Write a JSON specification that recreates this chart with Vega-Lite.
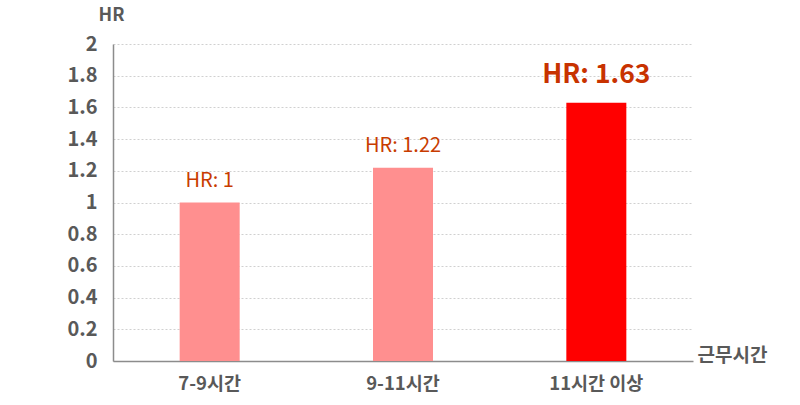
{
  "$schema": "https://vega.github.io/schema/vega-lite/v6.json",
  "width": 580,
  "height": 317,
  "autosize": {"type": "none"},
  "padding": {"left": 113, "top": 44, "right": 107, "bottom": 44},
  "background": "white",
  "data": {"values": [
    {"group": "7-9시간", "hr": 1, "label": "HR: 1"},
    {"group": "9-11시간", "hr": 1.22, "label": "HR: 1.22"},
    {"group": "11시간 이상", "hr": 1.63, "label": "HR: 1.63"}
  ]},
  "config": {
    "view": {"stroke": null},
    "font": "Noto Sans CJK KR"
  },
  "encoding": {
    "x": {
      "field": "group", "type": "nominal", "sort": null,
      "scale": {"paddingInner": 0, "paddingOuter": 0},
      "axis": {
        "title": "근무시간", "titleAngle": 0, "titleAlign": "left", "titleBaseline": "middle",
        "titleX": 584, "titleY": -6, "titleFontSize": 19, "titleFontWeight": "bold", "titleColor": "#595959",
        "labelAngle": 0, "labelFontSize": 18.5, "labelFontWeight": "bold", "labelColor": "#595959",
        "labelPadding": 13, "ticks": false, "domainColor": "#8c8c8c", "domainWidth": 1.5, "grid": false
      }
    },
    "y": {
      "field": "hr", "type": "quantitative",
      "scale": {"domain": [0, 2], "nice": false},
      "axis": {
        "values": [0, 0.2, 0.4, 0.6, 0.8, 1, 1.2, 1.4, 1.6, 1.8, 2],
        "format": "~g",
        "title": "HR", "titleAngle": 0, "titleAlign": "center", "titleBaseline": "middle",
        "titleX": -2, "titleY": -29, "titleFontSize": 18, "titleFontWeight": "bold", "titleColor": "#595959",
        "labelFontSize": 20, "labelFontWeight": "bold", "labelColor": "#595959", "labelPadding": 16,
        "ticks": false, "domainColor": "#8c8c8c", "domainWidth": 1.5,
        "grid": true, "gridColor": "#d0d0d0", "gridDash": [2, 2], "gridWidth": 1
      }
    }
  },
  "layer": [
    {
      "mark": {"type": "bar", "width": 60},
      "encoding": {
        "color": {
          "field": "group", "type": "nominal", "legend": null,
          "scale": {"domain": ["7-9시간", "9-11시간", "11시간 이상"], "range": ["#FF8F8F", "#FF8F8F", "#FF0000"]}
        }
      }
    },
    {
      "transform": [{"filter": "datum.group != '11시간 이상'"}],
      "mark": {"type": "text", "dy": -12, "baseline": "bottom", "fontSize": 20, "color": "#C83C00"},
      "encoding": {"text": {"field": "label"}}
    },
    {
      "transform": [{"filter": "datum.group == '11시간 이상'"}],
      "mark": {"type": "text", "dy": -14, "baseline": "bottom", "fontSize": 26.5, "fontWeight": "bold", "color": "#C83200"},
      "encoding": {"text": {"field": "label"}}
    }
  ]
}
